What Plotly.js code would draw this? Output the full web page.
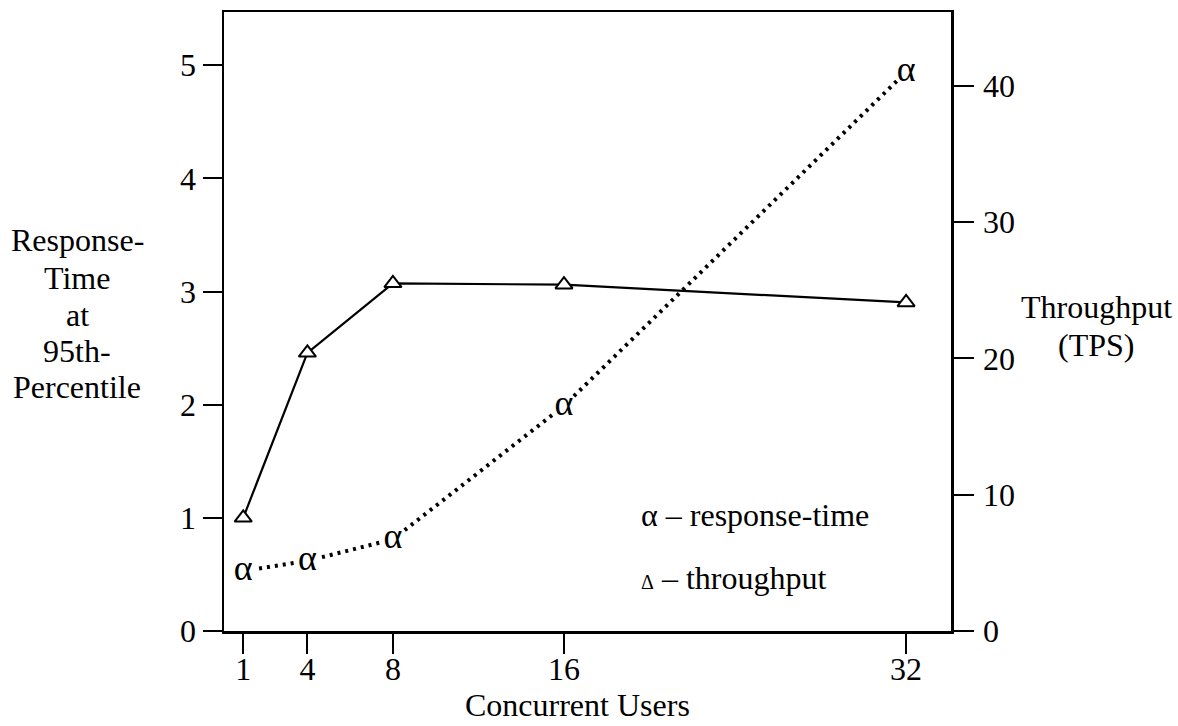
<!DOCTYPE html>
<html>
<head>
<meta charset="utf-8">
<script src="https://cdn.plot.ly/plotly-3.0.1.min.js"></script>
<style>
  html, body { margin: 0; padding: 0; background: #ffffff; }
  #chart { width: 1178px; height: 726px; }
</style>
</head>
<body>
<div id="chart"></div>
<script>
// ---- data ----
const users = [1, 4, 8, 16, 32];
const responseTime = [0.53, 0.62, 0.81, 1.99, 4.94];
const throughput = [8.3, 20.4, 25.5, 25.4, 24.1];

const xTickVals = [1, 4, 8, 16, 32];
const leftTickVals = [0, 1, 2, 3, 4, 5];
const rightTickVals = [0, 10, 20, 30, 40];

const seriesNames = ['response-time', 'throughput'];
const seriesSymbols = ['α', 'Δ'];
const xTitle = 'Concurrent Users';
const yTitleLines = ['Response-', 'Time', 'at', '95th-', 'Percentile'];
const y2TitleLines = ['Throughput', '(TPS)'];

// ---- layout helpers ----
const W = 1178, H = 726;
const M = { l: 224, r: 227, t: 12, b: 95 };
const plotW = W - M.l - M.r, plotH = H - M.t - M.b;
const px = x => (x - M.l) / plotW;
const py = y => (H - M.b - y) / plotH;

const FONT = "'Liberation Serif', 'Times New Roman', Times, serif";
const fontBase = { family: FONT, size: 32, color: '#000' };

const traces = [
  {
    x: users, y: responseTime, yaxis: 'y',
    name: seriesNames[0],
    mode: 'lines+markers+text',
    text: users.map(() => seriesSymbols[0]),
    textposition: 'middle center',
    textfont: { family: FONT, size: 36, color: '#000' },
    line: { color: '#000', width: 4, dash: '3px,5px' },
    marker: { symbol: 'circle', size: 26, color: '#fff', line: { width: 0 } },
    cliponaxis: false,
    showlegend: false,
    hoverinfo: 'skip'
  },
  {
    x: users, y: throughput, yaxis: 'y2',
    name: seriesNames[1],
    mode: 'lines+markers',
    line: { color: '#000', width: 2.2 },
    marker: { symbol: 'triangle-up', size: 15, color: '#fff', line: { color: '#000', width: 2 } },
    cliponaxis: false,
    showlegend: false,
    hoverinfo: 'skip'
  }
];

const annotations = [];
const yTitlePos = [240, 278, 315, 351, 387];
yTitleLines.forEach((t, i) => annotations.push({
  text: t, xref: 'paper', yref: 'paper', x: px(77), y: py(yTitlePos[i]),
  xanchor: 'center', yanchor: 'middle', showarrow: false, font: fontBase
}));
const y2TitlePos = [307, 345];
y2TitleLines.forEach((t, i) => annotations.push({
  text: t, xref: 'paper', yref: 'paper', x: px(1096), y: py(y2TitlePos[i]),
  xanchor: 'center', yanchor: 'middle', showarrow: false, font: fontBase
}));
annotations.push({
  text: xTitle, xref: 'paper', yref: 'paper', x: px(577), y: py(725),
  xanchor: 'center', yanchor: 'bottom', showarrow: false, font: fontBase
});
// legend (text key)
annotations.push({
  text: seriesSymbols[0] + ' – ' + seriesNames[0],
  xref: 'paper', yref: 'paper', x: px(639), y: py(515),
  xanchor: 'left', yanchor: 'middle', showarrow: false, font: fontBase
});
annotations.push({
  text: '<span style="font-size:20px">' + seriesSymbols[1] + '</span> – ' + seriesNames[1],
  xref: 'paper', yref: 'paper', x: px(639), y: py(578),
  xanchor: 'left', yanchor: 'middle', showarrow: false, font: fontBase
});

const axisCommon = {
  showgrid: false, zeroline: false, showline: true,
  linecolor: '#000', linewidth: 2.5,
  ticks: 'outside', tickcolor: '#000', tickwidth: 2,
  tickfont: fontBase, fixedrange: true
};

const layout = {
  width: W, height: H,
  margin: M,
  paper_bgcolor: '#fff', plot_bgcolor: '#fff',
  font: fontBase,
  showlegend: false,
  xaxis: Object.assign({}, axisCommon, {
    range: [0.1, 34.1], tickmode: 'array', tickvals: xTickVals,
    ticklen: 20, mirror: true, ticklabelstandoff: -12
  }),
  yaxis: Object.assign({}, axisCommon, {
    range: [0, 5.47], tickmode: 'array', tickvals: leftTickVals,
    ticklen: 19
  }),
  yaxis2: Object.assign({}, axisCommon, {
    range: [0, 45.4], tickmode: 'array', tickvals: rightTickVals,
    ticklen: 20, overlaying: 'y', side: 'right', ticklabelstandoff: 3
  }),
  annotations: annotations
};

Plotly.newPlot('chart', traces, layout, { staticPlot: true, displayModeBar: false });
</script>
</body>
</html>
